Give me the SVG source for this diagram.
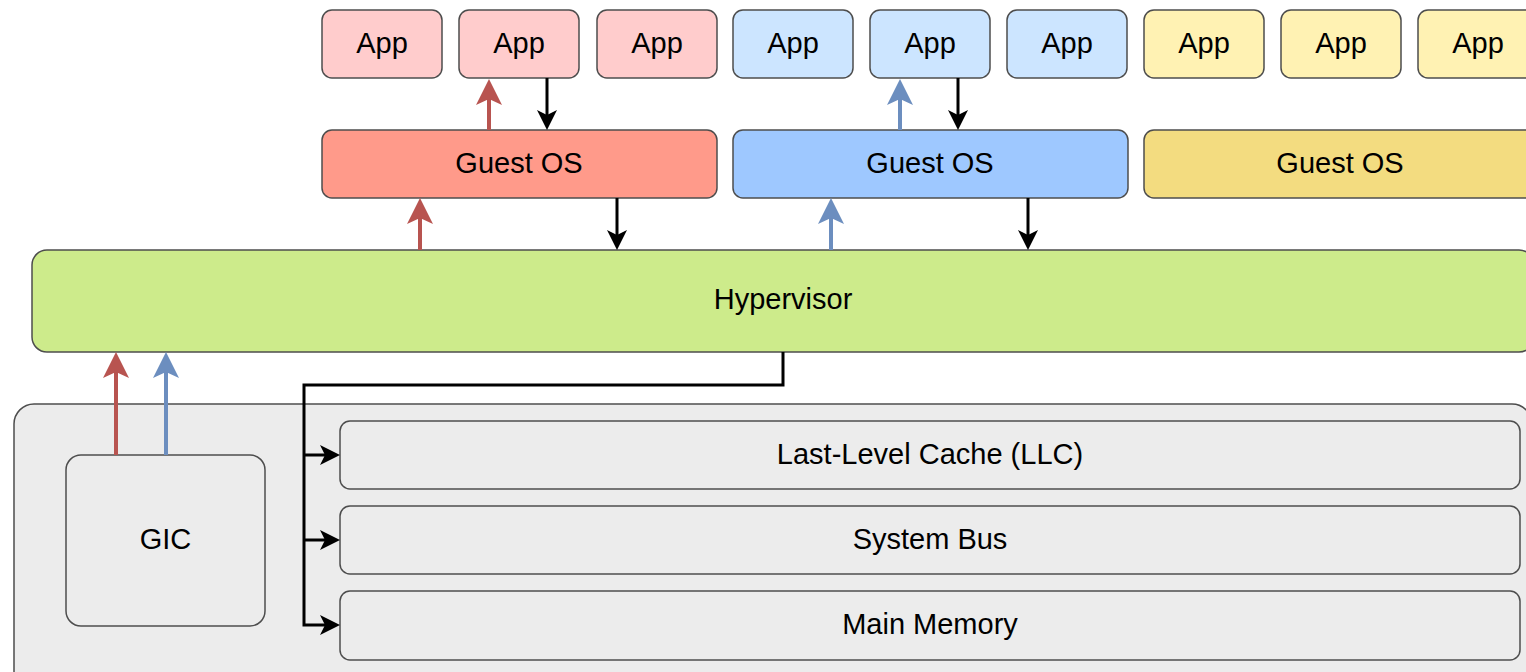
<svg xmlns="http://www.w3.org/2000/svg" width="1526" height="672" viewBox="0 0 1526 672">
  <style>
    .box { stroke: #4d4d4d; stroke-width: 1.5; }
    .app-red { fill: #ffcccc; }
    .app-blue { fill: #cce5ff; }
    .app-yellow { fill: #fff2b3; }
    .os-red { fill: #ff9a8a; }
    .os-blue { fill: #9ec8ff; }
    .os-yellow { fill: #f3dc80; }
    .hv { fill: #cdeb8b; }
    .hw { fill: #ececec; }
    text { font-family: "Liberation Sans", Arial, sans-serif; font-size: 29px; fill: #000; text-anchor: middle; }
    .c-black { fill: none; stroke: #000; stroke-width: 3; }
    .c-red { fill: none; stroke: #b85450; stroke-width: 4; }
    .c-blue { fill: none; stroke: #6c8ebf; stroke-width: 4; }
  </style>
  <defs>
    <marker id="head-black" markerUnits="userSpaceOnUse" markerWidth="20" markerHeight="20" viewBox="0 0 20 20" refX="8" refY="10" orient="auto">
      <path d="M0,0 L20,10 L0,20 L5,10 Z" fill="#000"/>
    </marker>
    <marker id="head-red" markerUnits="userSpaceOnUse" markerWidth="26" markerHeight="26" viewBox="0 0 26 26" refX="10" refY="13" orient="auto">
      <path d="M0,0 L26,13 L0,26 L6,13 Z" fill="#b85450"/>
    </marker>
    <marker id="head-blue" markerUnits="userSpaceOnUse" markerWidth="26" markerHeight="26" viewBox="0 0 26 26" refX="10" refY="13" orient="auto">
      <path d="M0,0 L26,13 L0,26 L6,13 Z" fill="#6c8ebf"/>
    </marker>
  </defs>

  <!-- hardware platform -->
  <g id="hardware">
    <rect class="box hw" x="14" y="404" width="1518" height="290" rx="20"/>
  </g>
  <g id="gic">
    <rect class="box hw" x="66" y="455" width="199" height="171" rx="15"/>
    <text x="165.5" y="549">GIC</text>
  </g>
  <g id="llc">
    <rect class="box hw" x="340" y="421" width="1180" height="68" rx="10"/>
    <text x="930" y="464">Last-Level Cache (LLC)</text>
  </g>
  <g id="system-bus">
    <rect class="box hw" x="340" y="506" width="1180" height="68" rx="10"/>
    <text x="930" y="549">System Bus</text>
  </g>
  <g id="main-memory">
    <rect class="box hw" x="340" y="591" width="1180" height="69" rx="10"/>
    <text x="930" y="634">Main Memory</text>
  </g>

  <!-- hypervisor layer -->
  <g id="hypervisor">
    <rect class="box hv" x="32" y="250" width="1502" height="102" rx="15"/>
    <text x="783" y="309">Hypervisor</text>
  </g>

  <!-- guest operating systems -->
  <g id="guest-os-1">
    <rect class="box os-red" x="322" y="130" width="395" height="68" rx="10"/>
    <text x="519" y="173">Guest OS</text>
  </g>
  <g id="guest-os-2">
    <rect class="box os-blue" x="733" y="130" width="395" height="68" rx="10"/>
    <text x="930" y="173">Guest OS</text>
  </g>
  <g id="guest-os-3">
    <rect class="box os-yellow" x="1144" y="130" width="395" height="68" rx="10"/>
    <text x="1340" y="173">Guest OS</text>
  </g>

  <!-- applications -->
  <g id="app-1-1"><rect class="box app-red" x="322" y="10" width="120" height="68" rx="10"/><text x="382" y="53">App</text></g>
  <g id="app-1-2"><rect class="box app-red" x="459" y="10" width="120" height="68" rx="10"/><text x="519" y="53">App</text></g>
  <g id="app-1-3"><rect class="box app-red" x="597" y="10" width="120" height="68" rx="10"/><text x="657" y="53">App</text></g>
  <g id="app-2-1"><rect class="box app-blue" x="733" y="10" width="120" height="68" rx="10"/><text x="793" y="53">App</text></g>
  <g id="app-2-2"><rect class="box app-blue" x="870" y="10" width="120" height="68" rx="10"/><text x="930" y="53">App</text></g>
  <g id="app-2-3"><rect class="box app-blue" x="1007" y="10" width="120" height="68" rx="10"/><text x="1067" y="53">App</text></g>
  <g id="app-3-1"><rect class="box app-yellow" x="1144" y="10" width="120" height="68" rx="10"/><text x="1204" y="53">App</text></g>
  <g id="app-3-2"><rect class="box app-yellow" x="1281" y="10" width="120" height="68" rx="10"/><text x="1341" y="53">App</text></g>
  <g id="app-3-3"><rect class="box app-yellow" x="1418" y="10" width="120" height="68" rx="10"/><text x="1478" y="53">App</text></g>

  <!-- connectors -->
  <g id="connectors">
    <!-- interrupt lines from the GIC up to the hypervisor -->
    <path class="c-red" d="M116,455 V368" marker-end="url(#head-red)"/>
    <path class="c-blue" d="M166,455 V368" marker-end="url(#head-blue)"/>

    <!-- injected interrupts: hypervisor to guest OS, guest OS to app -->
    <path class="c-red" d="M420,250 V214" marker-end="url(#head-red)"/>
    <path class="c-red" d="M489,130 V95" marker-end="url(#head-red)"/>
    <path class="c-blue" d="M831,250 V214" marker-end="url(#head-blue)"/>
    <path class="c-blue" d="M900,130 V95" marker-end="url(#head-blue)"/>

    <!-- requests going down the stack -->
    <path class="c-black" d="M547,78 V118" marker-end="url(#head-black)"/>
    <path class="c-black" d="M617,198 V238" marker-end="url(#head-black)"/>
    <path class="c-black" d="M958,78 V118" marker-end="url(#head-black)"/>
    <path class="c-black" d="M1028,198 V238" marker-end="url(#head-black)"/>

    <!-- hypervisor to shared memory hierarchy -->
    <path class="c-black" d="M783,352 V385 H304 V625 H328" marker-end="url(#head-black)"/>
    <path class="c-black" d="M304,455 H328" marker-end="url(#head-black)"/>
    <path class="c-black" d="M304,540 H328" marker-end="url(#head-black)"/>
  </g>
</svg>
